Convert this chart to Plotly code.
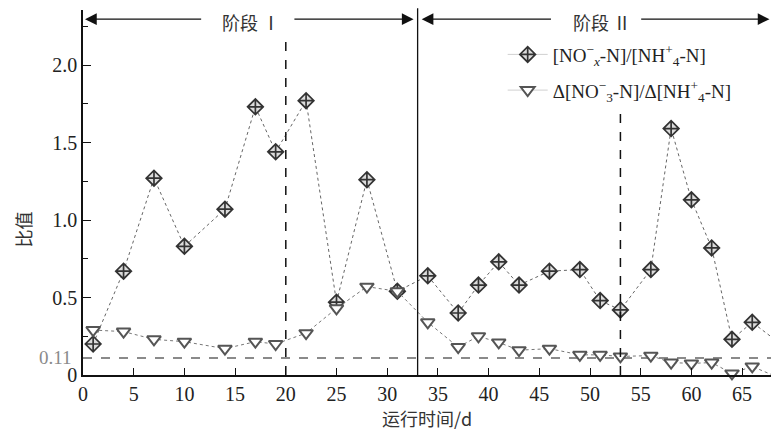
import plotly.graph_objects as go

# Operating days sampled in both phases
days = [1, 4, 7, 10, 14, 17, 19, 22, 25, 28, 31, 34, 37, 39, 41, 43, 46, 49,
        51, 53, 56, 58, 60, 62, 64, 66, 68]

# [NOx--N]/[NH4+-N] ratio
nox_nh4 = [0.20, 0.67, 1.27, 0.83, 1.07, 1.73, 1.44, 1.77, 0.47, 1.26, 0.54,
           0.64, 0.40, 0.58, 0.73, 0.58, 0.67, 0.68, 0.48, 0.42, 0.68, 1.59,
           1.13, 0.82, 0.23, 0.34, 0.24]

# Δ[NO3--N]/Δ[NH4+-N] ratio
dno3_dnh4 = [0.29, 0.28, 0.23, 0.215, 0.17, 0.215, 0.20, 0.27, 0.43, 0.57,
             0.54, 0.34, 0.18, 0.25, 0.21, 0.16, 0.17, 0.13, 0.13, 0.12,
             0.125, 0.08, 0.075, 0.08, 0.01, 0.055, 0.0]

threshold = 0.11          # reference ratio line
stage_split = 33          # end of phase I / start of phase II
dashed_days = [20, 53]    # marked days inside each phase
stage_labels = ["阶段 Ⅰ", "阶段 Ⅱ"]

x_ticks = list(range(0, 70, 5))
y_ticks = [0, 0.5, 1.0, 1.5, 2.0]
y_tick_text = ["0", "0.5", "1.0", "1.5", "2.0"]

X_MAX = 67.85
Y_MAX = 2.355
SERIF = "Liberation Serif, serif"
CJK = "Noto Sans CJK SC"

name1 = "[NO<sup>−</sup><sub><i>x</i></sub>-N]/[NH<sup>+</sup><sub>4</sub>-N]"
name2 = "Δ[NO<sup>−</sup><sub>3</sub>-N]/Δ[NH<sup>+</sup><sub>4</sub>-N]"

style1 = dict(symbol="diamond-cross", size=12, color="#dcdcdc",
              line=dict(color="#333333", width=1.7))
style2 = dict(symbol="triangle-down", size=12, color="white",
              line=dict(color="#555555", width=2))

fig = go.Figure()

fig.add_trace(go.Scatter(
    x=days, y=nox_nh4, mode="lines+markers", name=name1, showlegend=False,
    line=dict(color="#666666", width=1, dash="dot"), marker=style1,
    cliponaxis=False,
))
fig.add_trace(go.Scatter(
    x=days, y=dno3_dnh4, mode="lines+markers", name=name2, showlegend=False,
    line=dict(color="#777777", width=1, dash="dot"), marker=style2,
    cliponaxis=False,
))

# legend entries (faint solid sample line, as in the printed key)
for nm, st, grp in [(name1, style1, "a"), (name2, style2, "b")]:
    fig.add_trace(go.Scatter(
        x=[None], y=[None], mode="lines+markers", name=nm, legendgroup=grp,
        line=dict(color="#d0d0d0", width=1), marker=st,
    ))

shapes = [
    # threshold line
    dict(type="line", xref="paper", yref="y", x0=0, x1=1, y0=threshold, y1=threshold,
         line=dict(color="#8a8a8a", width=2, dash="dash"), layer="below"),
    # phase boundary
    dict(type="line", xref="x", yref="paper", x0=stage_split, x1=stage_split, y0=0, y1=1.005,
         line=dict(color="#111111", width=1.3)),
    # marked days
    dict(type="line", xref="x", yref="paper", x0=dashed_days[0], x1=dashed_days[0], y0=0, y1=0.937,
         line=dict(color="#111111", width=1.5, dash="dash")),
    dict(type="line", xref="x", yref="paper", x0=dashed_days[1], x1=dashed_days[1], y0=0, y1=0.72,
         line=dict(color="#111111", width=1.5, dash="dash")),
]

ARROW_Y = 0.975
arrow_common = dict(xref="x", yref="y domain", axref="x", ayref="y domain", text="",
                    showarrow=True, arrowhead=2, arrowsize=1.8, arrowwidth=1.3,
                    arrowcolor="#111111", standoff=0, startstandoff=0)
annotations = [
    dict(x=0.2, y=ARROW_Y, ax=11.8, ay=ARROW_Y, **arrow_common),
    dict(x=32.6, y=ARROW_Y, ax=20.7, ay=ARROW_Y, **arrow_common),
    dict(x=33.4, y=ARROW_Y, ax=46.3, ay=ARROW_Y, **arrow_common),
    dict(x=67.7, y=ARROW_Y, ax=54.9, ay=ARROW_Y, **arrow_common),
    dict(x=16.6, y=ARROW_Y, xref="x", yref="y domain", text=stage_labels[0], showarrow=False,
         yanchor="middle", yshift=-3, font=dict(family=CJK, size=18, color="#333333")),
    dict(x=51.2, y=ARROW_Y, xref="x", yref="y domain", text=stage_labels[1], showarrow=False,
         yanchor="middle", yshift=-3, font=dict(family=CJK, size=18, color="#333333")),
    # threshold label
    dict(x=0, y=threshold, xref="paper", yref="y", text="0.11", showarrow=False,
         xanchor="right", xshift=-9, font=dict(family=SERIF, size=19, color="#8a8a8a")),
    # y-axis title
    dict(x=-0.088, y=0.4, xref="paper", yref="paper", text="比值", showarrow=False,
         textangle=-90, xshift=-14, font=dict(family=CJK, size=18, color="#333333")),
]

tickfont = dict(family=SERIF, size=20, color="#222222")

fig.update_layout(
    width=771, height=434,
    margin=dict(l=83, r=0, t=10, b=59),
    paper_bgcolor="white", plot_bgcolor="white",
    font=dict(family=SERIF, size=19, color="#222222"),
    shapes=shapes, annotations=annotations,
    showlegend=True,
    legend=dict(x=0.61, y=0.93, xanchor="left", yanchor="top",
                bgcolor="rgba(0,0,0,0)", font=dict(family=SERIF, size=19, color="#222222"),
                tracegroupgap=8, itemwidth=40, traceorder="grouped"),
    xaxis=dict(range=[0, X_MAX], tickvals=x_ticks, ticks="inside", ticklen=7, tickwidth=1.3,
               tickcolor="#111111", showline=True, linecolor="#111111", linewidth=1.5,
               showgrid=False, zeroline=False, tickfont=tickfont,
               title=dict(text="运行时间/d", font=dict(family=CJK, size=18, color="#333333"),
                          standoff=3)),
    yaxis=dict(range=[0, Y_MAX], tickvals=y_ticks, ticktext=y_tick_text, ticks="inside",
               ticklen=8, tickwidth=1.3, tickcolor="#111111", showline=True,
               linecolor="#111111", linewidth=1.5, showgrid=False, zeroline=False,
               tickfont=tickfont,
               minor=dict(dtick=0.25, tick0=0, ticks="inside", ticklen=5, tickwidth=1.3,
                          tickcolor="#111111")),
)

fig.write_html("out.html")
